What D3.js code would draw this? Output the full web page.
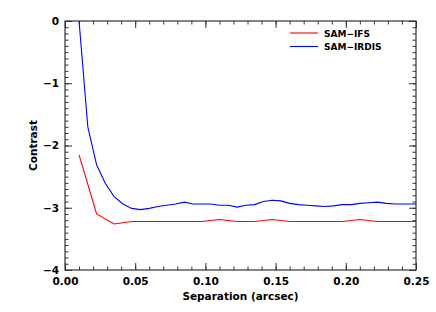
<!DOCTYPE html>
<html>
<head>
<meta charset="utf-8">
<script src="https://cdn.jsdelivr.net/npm/d3@7"></script>
<style>
  body { margin: 0; background: #fff; }
  svg text { font-family: "DejaVu Sans", sans-serif; fill: #000; }
</style>
</head>
<body>
<svg id="chart"></svg>
<script>
// SAM-IRDIS sampled every 0.00625 arcsec from 0.01
const irdisSep = [0.01, 0.01625, 0.0225, 0.02875, 0.035, 0.04125, 0.0475, 0.05375, 0.06, 0.06625,
  0.0725, 0.07875, 0.085, 0.09125, 0.0975, 0.10375, 0.11, 0.11625, 0.1225, 0.12875,
  0.135, 0.14125, 0.1475, 0.15375, 0.16, 0.16625, 0.1725, 0.17875, 0.185, 0.19125,
  0.1975, 0.20375, 0.21, 0.21625, 0.2225, 0.22875, 0.235, 0.24125, 0.2475, 0.25375];
const irdisContrast = [0, -1.70, -2.31, -2.61, -2.82, -2.94, -3.01, -3.03, -3.01, -2.98,
  -2.96, -2.94, -2.91, -2.94, -2.94, -2.94, -2.96, -2.96, -2.99, -2.96,
  -2.95, -2.90, -2.88, -2.89, -2.93, -2.95, -2.96, -2.97, -2.98, -2.97,
  -2.95, -2.95, -2.93, -2.92, -2.91, -2.93, -2.94, -2.94, -2.94, -2.94];

// SAM-IFS sampled every 0.0125 arcsec from 0.01
const ifsSep = [0.01, 0.0225, 0.035, 0.0475, 0.06, 0.0725, 0.085, 0.0975, 0.11, 0.1225,
  0.135, 0.1475, 0.16, 0.1725, 0.185, 0.1975, 0.21, 0.2225, 0.235, 0.2475, 0.26];
const ifsContrast = [-2.15, -3.10, -3.26, -3.22, -3.22, -3.22, -3.22, -3.22, -3.19, -3.22,
  -3.22, -3.19, -3.22, -3.22, -3.22, -3.22, -3.19, -3.22, -3.22, -3.22, -3.22];

const xTicks = [0, 0.05, 0.10, 0.15, 0.20, 0.25];
const yTicks = [0, -1, -2, -3, -4];
const legendLabels = ['SAM-IFS', 'SAM-IRDIS'];
const seriesColors = ['#ff0000', '#0000ff'];

const W = 436, H = 312;
const margin = { top: 21, right: 20, bottom: 42, left: 65 };
const width = W - margin.left - margin.right,
      height = H - margin.top - margin.bottom;

const svg = d3.select('#chart').attr('width', W).attr('height', H);
const g = svg.append('g').attr('transform', `translate(${margin.left},${margin.top})`);

const x = d3.scaleLinear().domain([0, 0.25]).range([0, width]);
const y = d3.scaleLinear().domain([-4, 0]).range([height, 0]);

g.append('defs').append('clipPath').attr('id', 'clip')
  .append('rect').attr('width', width).attr('height', height);

const xMinor = d3.range(0, 0.2501, 0.01);
const yMinor = d3.range(-4, 0.001, 0.1);

// ticks pointing inward on all four sides
const axStyle = sel => {
  sel.select('.domain').remove();
  sel.selectAll('line').attr('stroke', '#333').attr('stroke-width', 1);
  sel.selectAll('text').attr('font-size', 10.5).attr('font-weight', 'bold');
};

g.append('g').attr('transform', `translate(0,${height})`)
  .call(d3.axisBottom(x).tickValues(xTicks).tickFormat(d3.format('.2f')).tickSizeInner(-7).tickPadding(8))
  .call(axStyle);
g.append('g').attr('transform', `translate(0,${height})`)
  .call(d3.axisBottom(x).tickValues(xMinor).tickFormat('').tickSizeInner(-3.5))
  .call(axStyle);
g.append('g')
  .call(d3.axisTop(x).tickValues(xTicks).tickFormat('').tickSizeInner(-7))
  .call(axStyle);
g.append('g')
  .call(d3.axisTop(x).tickValues(xMinor).tickFormat('').tickSizeInner(-3.5))
  .call(axStyle);

g.append('g')
  .call(d3.axisLeft(y).tickValues(yTicks).tickFormat(d => d === 0 ? '0' : '\u2212' + Math.abs(d)).tickSizeInner(-7).tickPadding(6))
  .call(axStyle);
g.append('g')
  .call(d3.axisLeft(y).tickValues(yMinor).tickFormat('').tickSizeInner(-3.5))
  .call(axStyle);
g.append('g').attr('transform', `translate(${width},0)`)
  .call(d3.axisRight(y).tickValues(yTicks).tickFormat('').tickSizeInner(-7))
  .call(axStyle);
g.append('g').attr('transform', `translate(${width},0)`)
  .call(d3.axisRight(y).tickValues(yMinor).tickFormat('').tickSizeInner(-3.5))
  .call(axStyle);

g.append('rect').attr('width', width).attr('height', height)
  .attr('fill', 'none').attr('stroke', '#333').attr('stroke-width', 1.2);

const line = d3.line().x(d => x(d[0])).y(d => y(d[1]));
const plot = g.append('g').attr('clip-path', 'url(#clip)');

plot.append('path')
  .datum(d3.zip(ifsSep, ifsContrast))
  .attr('fill', 'none').attr('stroke', seriesColors[0]).attr('stroke-width', 1.1)
  .attr('d', line);

plot.append('path')
  .datum(d3.zip(irdisSep, irdisContrast))
  .attr('fill', 'none').attr('stroke', seriesColors[1]).attr('stroke-width', 1.1)
  .attr('d', line);

// legend
const legend = g.append('g').attr('transform', 'translate(225,12)');
legendLabels.forEach((lab, i) => {
  legend.append('line')
    .attr('x1', 0).attr('x2', 28).attr('y1', i * 13.5).attr('y2', i * 13.5)
    .attr('stroke', seriesColors[i]).attr('stroke-width', 1.1);
  legend.append('text')
    .attr('x', 34).attr('y', i * 13.5 + 3.5)
    .attr('font-size', 9).attr('font-weight', 'bold')
    .text(lab.replace('-', '\u2212'));
});

svg.append('text')
  .attr('x', margin.left + width / 2).attr('y', H - 12)
  .attr('text-anchor', 'middle').attr('font-size', 10.5).attr('font-weight', 'bold')
  .text('Separation (arcsec)');

svg.append('text')
  .attr('transform', `translate(37,${margin.top + height / 2}) rotate(-90)`)
  .attr('text-anchor', 'middle').attr('font-size', 10.5).attr('font-weight', 'bold')
  .text('Contrast');
</script>
</body>
</html>
